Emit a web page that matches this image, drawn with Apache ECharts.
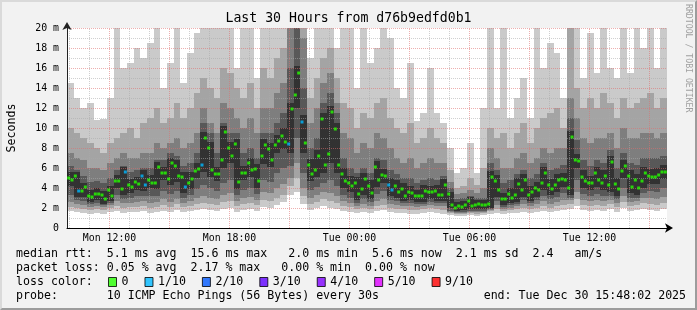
<!DOCTYPE html>
<html><head><meta charset="utf-8">
<script src="https://cdn.jsdelivr.net/npm/echarts@6/dist/echarts.min.js"></script>
<style>
html,body{margin:0;padding:0;background:#f2f2f2;}
#wrap{position:relative;width:697px;height:310px;}
#chart{position:absolute;left:0;top:0;width:697px;height:310px;}
#frame{position:absolute;left:0;top:0;width:697px;height:310px;box-sizing:border-box;border:2px solid;border-color:#dadada #9c9c9c #9c9c9c #dadada;pointer-events:none;}
</style></head><body>
<div id="wrap"><div id="chart"></div><div id="frame"></div></div>
<script>
// time axis in hours since Mon 00:00
const startHour = 9.875;      // left edge of the plot (Mon 09:52:30)
const spanHours = 30;
const bandStepH = 1/3;        // smoke rows: 20 min each
const medStepH = 1/6;         // median rows: 10 min each

// smoke: sorted ping quantiles p1 (fastest) .. p10 (slowest), ms
const p1 = [1.7,1.6,1.5,1.4,1.5,1.4,1.6,1.7,1.5,1.6,
 1.6,1.7,1.5,1.6,1.7,1.6,1.8,1.6,1.7,1.8,
 1.9,1.8,1.7,1.9,2.0,1.6,1.8,1.9,1.7,2.1,
 2.0,2.3,2.6,3.3,3.6,2.4,1.8,2.0,2.2,2.0,
 1.9,1.7,1.6,1.5,1.6,1.5,1.7,1.8,1.6,1.5,
 1.5,1.4,1.4,1.5,1.6,1.5,1.4,1.3,1.2,1.2,
 1.3,1.2,1.3,1.4,1.5,1.4,1.5,1.5,1.6,1.5,
 1.6,1.7,1.6,1.7,1.8,1.9,2.2,1.8,1.7,1.8,
 1.7,1.9,1.6,2.0,1.7,1.8,1.9,1.8,1.7,1.9];
const p2 = [2.1,2.0,1.9,1.8,1.9,1.8,2.0,2.2,2.0,2.1,
 2.1,2.2,2.0,2.1,2.3,2.1,2.4,2.1,2.2,2.4,
 2.5,2.4,2.3,2.6,2.7,2.2,2.4,2.5,2.3,2.8,
 2.7,3.0,3.3,4.2,5.0,3.2,2.4,2.6,2.9,2.7,
 2.5,2.2,2.1,1.9,2.0,1.9,2.2,2.3,2.0,1.9,
 1.9,1.8,1.8,1.9,2.0,1.9,1.8,1.5,1.4,1.4,
 1.5,1.4,1.5,1.7,1.9,1.7,1.8,1.9,2.0,1.9,
 2.0,2.2,2.0,2.2,2.3,2.4,2.9,2.3,2.2,2.3,
 2.2,2.4,2.1,2.6,2.2,2.3,2.5,2.4,2.3,2.5];
const p3 = [2.6,2.4,2.3,2.1,2.2,2.1,2.3,2.7,2.5,2.5,
 2.6,2.7,2.5,2.6,2.9,2.6,2.9,2.5,2.7,3.0,
 3.2,3.0,2.9,3.3,3.5,2.7,3.0,3.1,2.8,3.6,
 3.5,4.0,4.4,5.0,6.5,4.0,3.0,3.3,3.6,3.5,
 3.2,2.7,2.5,2.2,2.4,2.2,2.7,2.9,2.4,2.3,
 2.2,2.2,2.1,2.2,2.3,2.2,2.2,1.6,1.5,1.5,
 1.6,1.6,1.6,1.8,2.3,1.9,2.0,2.2,2.4,2.2,
 2.4,2.7,2.4,2.6,2.8,2.8,3.6,2.8,2.7,2.8,
 2.7,2.8,2.5,3.2,2.6,2.7,3.0,3.0,2.9,3.1];
const p4 = [3.3,2.8,2.7,2.4,2.5,2.3,2.5,3.3,2.9,3.0,
 3.2,3.2,3.2,3.2,3.7,3.4,3.7,3.0,3.3,3.9,
 4.3,4.0,3.7,4.5,4.8,3.3,3.8,4.0,3.4,4.8,
 4.6,5.5,6.0,6.2,9.0,5.5,3.8,4.1,4.5,4.8,
 4.2,3.3,3.0,2.5,2.9,2.6,3.4,3.7,2.8,2.7,
 2.5,2.5,2.4,2.4,2.6,2.5,2.5,1.7,1.6,1.6,
 1.7,1.7,1.7,1.9,2.7,2.1,2.3,2.4,2.8,2.5,
 2.8,3.2,2.9,3.1,3.5,3.0,4.8,3.4,3.2,3.4,
 3.2,3.2,2.9,4.0,3.0,3.0,3.5,3.7,3.6,4.0];
const p5 = [4.2,3.1,3.1,2.6,2.8,2.4,2.7,4.0,3.3,3.5,
 3.8,3.7,4.0,3.9,4.8,4.3,4.6,3.5,3.9,5.0,
 5.6,5.1,4.7,6.0,6.5,3.9,4.8,5.1,4.0,6.4,
 6.1,7.5,7.9,7.5,12.0,7.5,4.7,5.1,5.5,6.5,
 5.5,4.0,3.6,2.8,3.3,2.9,4.1,4.5,3.2,3.0,
 2.7,2.8,2.6,2.6,2.9,2.7,2.7,2.0,1.7,1.8,
 1.9,1.9,1.9,2.0,3.1,2.3,2.5,2.6,3.1,2.7,
 3.1,3.8,3.3,3.6,4.1,3.3,6.0,4.0,3.8,4.1,
 3.8,3.6,3.2,5.0,3.5,3.3,4.0,4.4,4.4,4.9];
const p6 = [5.6,5.6,4.5,3.8,4.0,3.7,4.2,5.3,6.1,4.9,
 5.1,5.8,5.3,6.6,6.1,7.0,6.8,5.6,5.6,6.5,
 9.6,8.6,6.1,10.2,8.6,8.9,6.2,7.0,6.4,8.9,
 8.5,9.3,10.0,12.5,16.2,11.3,6.9,7.8,11.5,12.2,
 10.5,6.0,5.2,5.1,5.5,4.8,6.7,5.9,5.0,4.8,
 4.5,4.2,3.8,4.3,4.2,4.3,4.9,3.6,2.6,2.7,
 3.1,2.8,2.8,5.7,5.3,3.5,4.0,5.0,5.4,4.2,
 4.6,6.1,4.9,5.4,5.5,9.7,7.4,5.8,5.2,6.1,
 5.8,7.2,5.0,6.8,5.8,5.4,6.1,5.9,6.0,6.3];
const p7 = [6.2,5.8,5.2,4.6,4.7,4.5,5.0,5.8,6.2,5.6,
 5.8,6.0,6.0,6.8,6.8,7.5,7.2,6.2,6.5,7.5,
 10.5,9.5,7.5,10.5,9.5,9.5,7.5,8.0,7.0,9.5,
 9.5,10.5,11.5,16.0,20,14.0,8.0,9.0,12.5,13.5,
 11.5,7.0,6.0,5.5,6.0,5.5,7.0,6.8,5.8,5.4,
 5.0,5.0,4.5,4.8,5.0,4.8,5.2,4.0,2.9,3.0,
 3.2,3.0,3.0,6.5,5.8,4.5,4.8,5.4,5.8,5.0,
 5.4,6.5,5.8,6.0,6.3,11.0,8.8,6.8,6.2,6.8,
 6.5,7.8,6.0,7.5,6.5,6.3,7.0,7.0,7.0,7.2];
const p8 = [7.5,7.0,6.8,6.0,6.0,5.8,6.5,7.0,7.5,7.0,
 7.0,7.5,7.5,8.5,8.0,8.5,9.0,8.0,8.5,9.5,
 12.0,10.5,9.5,12.5,12.0,11.0,10.0,11.0,9.5,12.0,
 12.0,13.5,14.5,20,20,19.0,10.5,12.0,14.5,15.5,
 12.5,9.5,9.0,7.5,8.5,8.0,9.5,9.0,8.0,7.0,
 6.5,7.0,6.0,6.5,7.0,6.5,6.5,4.6,3.4,3.5,
 3.8,3.5,4.0,8.0,7.0,6.0,6.0,7.0,7.5,6.5,
 7.0,8.0,7.5,8.0,8.0,13.0,11.0,9.0,8.5,9.0,
 9.0,9.5,8.0,10.0,9.0,9.0,9.5,9.5,9.0,9.5];
const p9 = [10.0,9.5,9.0,8.5,8.0,7.5,8.5,9.0,9.5,10.0,
 9.0,10.5,11.0,12.0,10.5,11.0,12.5,11.0,12.0,13.5,
 15.0,14.0,13.0,16.0,15.5,14.0,13.0,14.5,12.0,16.0,
 15.0,17.0,18.0,20,20,20,13.0,15.0,17.0,18.0,
 15.0,12.5,12.0,10.0,11.5,11.0,12.5,13.0,11.0,10.0,
 9.5,10.5,8.5,9.0,10.0,9.0,8.5,5.8,4.0,4.2,
 5.0,4.3,6.0,10.0,9.0,9.5,8.0,9.5,10.5,8.5,
 10.0,11.0,11.5,12.0,10.0,20,14.0,12.0,13.0,12.0,
 13.5,12.5,11.0,13.0,12.0,12.5,13.0,13.5,12.0,13.0];
const p10 = [14.5,13.0,12.0,12.5,10.8,10.9,13.0,20,16.0,16.5,
 18.0,17.0,18.5,20,14.0,16.5,20,14.5,17.5,19.5,
 20,20,20,20,20,16.0,20,20,15.0,20,
 20,20,20,20,20,20,17.0,20,20,20,
 18.0,20,20,14.0,20,16.5,18.0,20,19.0,14.0,
 13.0,16.5,10.7,11.5,16.0,11.5,10.5,8.0,5.5,6.0,
 8.5,5.5,12.0,20,12.0,20,11.0,13.0,15.0,11.0,
 20,16.0,18.5,17.5,13.0,20,20,15.0,19.5,15.5,
 20,16.0,15.0,20,15.5,20,18.0,20,16.0,20];

// median rtt (ms) and packet loss (pings lost out of 10)
const medVals = [5.0,4.8,5.2,3.7,3.7,4.1,3.2,3.1,3.4,3.4,
 3.3,2.9,3.8,3.2,4.7,4.7,3.9,5.6,4.3,4.1,
 4.6,4.4,5.2,4.3,4.8,4.5,4.5,6.1,5.5,5.5,
 4.9,6.5,6.2,5.2,5.1,4.1,4.5,4.9,5.7,5.9,
 6.3,9.0,8.0,5.8,5.4,5.4,6.8,9.6,8.0,7.2,
 8.4,4.6,5.5,5.5,6.5,5.8,5.9,4.7,7.2,8.3,
 7.9,6.8,8.3,8.7,9.2,8.6,8.4,11.9,13.3,15.5,
 10.6,8.5,6.3,5.4,5.8,7.2,10.9,6.3,7.4,11.6,
 9.9,6.3,5.4,4.7,4.5,4.2,4.5,3.4,3.9,4.9,
 4.2,3.5,6.1,4.8,5.3,5.2,4.3,3.8,4.2,3.6,
 3.9,3.2,3.6,3.5,3.2,3.2,3.2,3.7,3.6,3.6,
 3.7,3.3,3.3,4.3,3.4,2.3,2.0,2.2,2.1,2.3,
 2.7,2.2,2.3,2.4,2.3,2.3,2.4,5.1,4.7,3.8,
 2.9,2.9,3.4,3.0,3.3,4.4,3.8,4.8,3.3,3.6,
 4.0,3.8,4.5,5.5,4.3,3.9,4.3,4.8,4.9,4.8,
 4.0,9.1,6.8,6.7,5.1,4.7,4.5,4.5,5.5,4.8,
 4.5,5.2,4.3,6.6,4.4,3.9,5.7,6.2,5.2,4.1,
 4.8,4.0,4.7,5.5,5.2,5.1,5.1,5.3,5.6,5.6];
const lossVals = [0,0,0,1,0,0,0,0,0,0,
 0,0,0,0,0,0,0,1,0,0,
 0,0,1,1,0,0,0,0,0,0,
 0,0,0,0,0,1,0,0,0,0,
 1,0,0,0,0,0,0,0,0,0,
 0,0,0,0,0,0,0,0,0,0,
 0,0,0,0,0,0,1,0,0,0,
 1,0,0,0,0,0,0,0,0,0,
 0,0,0,0,0,0,0,0,0,0,
 0,0,0,0,0,0,1,1,0,0,
 0,0,0,0,0,0,0,0,0,0,
 0,0,0,0,0,0,0,0,0,0,
 0,0,0,0,0,0,0,0,0,0,
 0,0,0,0,0,0,0,0,0,0,
 0,0,0,0,0,0,0,0,0,0,
 0,0,0,0,0,0,0,0,0,0,
 0,0,0,0,0,0,0,0,0,0,
 0,0,0,0,0,0,0,0,0,0];

const lossLevels = [0,1,2,3,4,5,9];
const lossNames = ['0','1/10','2/10','3/10','4/10','5/10','9/10'];
const lossColors = ['#26ff00','#00b8ff','#0059ff','#5e00ff','#7e00ff','#dd00ff','#ff0000'];
const smokeColors = ['#cacaca','#a4a4a4','#7e7e7e','#585858','#323232'];

const xTickHours = [12,18,24,30,36];
const xTickLabels = ['Mon 12:00','Mon 18:00','Tue 00:00','Tue 06:00','Tue 12:00'];
const gridHours = [10,11,12,13,14,15,16,17,18,19,20,21,22,23,24,25,26,27,28,29,30,31,32,33,34,35,36,37,38,39];
const majorEvery = 3;

const titleText = 'Last 30 Hours from d76b9edfd0b1';
const legendRows = [
  'median rtt:  5.1 ms avg  15.6 ms max   2.0 ms min  5.6 ms now  2.1 ms sd  2.4   am/s',
  'packet loss: 0.05 % avg  2.17 % max   0.00 % min  0.00 % now',
  'loss color:',
  'probe:       10 ICMP Echo Pings (56 Bytes) every 30s               end: Tue Dec 30 15:48:02 2025'
];

const MONO = "'DejaVu Sans Mono', monospace";
const GRID_RED = 'rgba(222,110,110,0.55)';
const GRID_GRAY = 'rgba(170,170,170,0.55)';

const smokeRows = p1.map((_, k) => [startHour + k * bandStepH, p1[k], p2[k], p3[k], p4[k], p5[k], p6[k], p7[k], p8[k], p9[k], p10[k]]);

function renderSmoke(params, api) {
  const t0 = api.value(0), t1 = t0 + bandStepH;
  const xa = Math.round(api.coord([t0, 0])[0]);
  const xb = Math.round(api.coord([t1, 0])[0]);
  const children = [];
  for (let b = 0; b < 5; b++) {
    const ylo = Math.round(api.coord([t0, api.value(1 + b)])[1]);
    const yhi = Math.round(api.coord([t0, api.value(10 - b)])[1]);
    children.push({type: 'rect', shape: {x: xa, y: yhi, width: xb - xa, height: ylo - yhi}, style: {fill: smokeColors[b]}});
  }
  return {type: 'group', children};
}

const medianSeries = lossLevels.map((lv, i) => ({
  type: 'scatter', name: lossNames[i], symbol: 'rect', symbolSize: [3, 3], z: 6, silent: true,
  itemStyle: {color: lossColors[i]},
  data: medVals.map((v, j) => lossVals[j] === lv ? [startHour + (j + 0.5) * medStepH, v] : null).filter(d => d)
}));

const chart = echarts.init(document.getElementById('chart'), null, {renderer: 'canvas'});
chart.setOption({
  animation: false,
  backgroundColor: '#f2f2f2',
  title: [
    {text: titleText, left: 'center', top: 12, padding: 0, textStyle: {fontFamily: MONO, fontSize: 13.2, fontWeight: 'normal', color: '#000'}},
    {text: legendRows[0], left: 16, top: 248, padding: 0, textStyle: {fontFamily: MONO, fontSize: 11.6, fontWeight: 'normal', color: '#000'}},
    {text: legendRows[1], left: 16, top: 262, padding: 0, textStyle: {fontFamily: MONO, fontSize: 11.6, fontWeight: 'normal', color: '#000'}},
    {text: legendRows[2], left: 16, top: 276, padding: 0, textStyle: {fontFamily: MONO, fontSize: 11.6, fontWeight: 'normal', color: '#000'}},
    {text: legendRows[3], left: 16, top: 290, padding: 0, textStyle: {fontFamily: MONO, fontSize: 11.6, fontWeight: 'normal', color: '#000'}}
  ],
  legend: {
    left: 108, top: 276, padding: 0, itemWidth: 8, itemHeight: 9, itemGap: 16, icon: 'rect', selectedMode: false,
    textStyle: {fontFamily: MONO, fontSize: 11.6, color: '#000'},
    itemStyle: {borderColor: '#000', borderWidth: 1},
    data: lossNames
  },
  graphic: [{
    type: 'text', x: 688, y: 4, rotation: -Math.PI / 2, silent: true,
    style: {text: 'RRDTOOL / TOBI OETIKER', fontFamily: MONO, fontSize: 8.2, fill: '#a0a0a0', align: 'left', verticalAlign: 'middle'}
  }],
  grid: {left: 67, top: 28, width: 600, height: 200, show: true, backgroundColor: '#ffffff', borderWidth: 0,
    containLabel: false, outerBoundsMode: 'none'},
  xAxis: {
    type: 'value', min: startHour, max: startHour + spanHours, z: 3,
    axisLine: {lineStyle: {color: '#000', width: 1}, symbol: ['none', 'arrow'], symbolSize: [7, 8], symbolOffset: [0, 6]},
    axisTick: {show: false},
    splitLine: {show: false},
    axisLabel: {customValues: xTickHours, formatter: v => { const i = xTickHours.indexOf(v); return i >= 0 ? xTickLabels[i] : ''; },
      fontFamily: MONO, fontSize: 9.9, color: '#000', margin: 5}
  },
  yAxis: {
    type: 'value', min: 0, max: 20, interval: 1, z: 3,
    name: 'Seconds', nameLocation: 'middle', nameGap: 49, nameRotate: 90,
    nameTextStyle: {fontFamily: MONO, fontSize: 11.6, color: '#000'},
    axisLine: {show: true, lineStyle: {color: '#222', width: 1}, symbol: ['none', 'arrow'], symbolSize: [7, 8], symbolOffset: [0, 6]},
    axisTick: {show: false},
    axisLabel: {formatter: v => (v % 2 ? '' : (v === 0 ? '0' : v + ' m')), fontFamily: MONO, fontSize: 9.9, color: '#000', margin: 8},
    splitLine: {show: true, lineStyle: {color: [GRID_RED, GRID_GRAY], type: [1, 1], width: 1}}
  },
  series: [
    {
      type: 'custom', name: 'smoke', z: 2, silent: true, clip: true,
      renderItem: renderSmoke, encode: {x: 0, y: 1}, data: smokeRows,
      markLine: {
        silent: true, symbol: ['none', 'none'], label: {show: false}, animation: false,
        data: gridHours.map(h => ({xAxis: h, lineStyle: {color: h % majorEvery === 0 ? GRID_RED : GRID_GRAY, type: [1, 1], width: 1}}))
      }
    }
  ].concat(medianSeries)
});
</script></body></html>
